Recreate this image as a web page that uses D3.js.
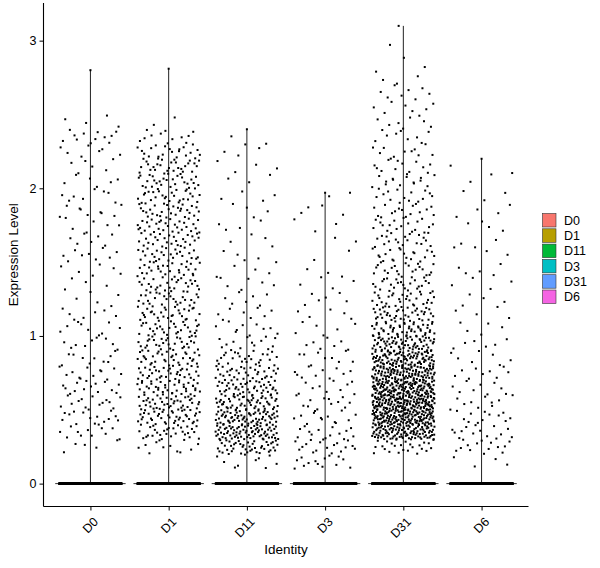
<!DOCTYPE html>
<html>
<head>
<meta charset="utf-8">
<script src="https://cdn.jsdelivr.net/npm/d3@7"></script>
<style>
  body { margin: 0; background: #fff; }
  svg { font-family: "Liberation Sans", Arial, sans-serif; }
</style>
</head>
<body>
<svg id="chart" width="600" height="568"></svg>
<script>
// ---- data ----
const categories = ["D0", "D1", "D11", "D3", "D31", "D6"];
const colors = ["#F8766D", "#B79F00", "#00BA38", "#00BFC4", "#619CFF", "#F564E3"];
const maxValues = [2.80, 2.81, 2.40, 1.97, 3.10, 2.20];
// number of cells with expression exactly 0 (forms the thick band at 0)
const zeroCounts = [500, 500, 500, 500, 500, 500];
// bin start values (width 0.1) and per-category counts of non-zero cells (below the maximum cell)
const binStarts = [0.1,0.2,0.3,0.4,0.5,0.6,0.7,0.8,0.9,1.0,1.1,1.2,1.3,1.4,1.5,1.6,1.7,1.8,1.9,2.0,2.1,2.2,2.3,2.4,2.5,2.6,2.7,2.8,2.9,3.0];
const countsD0  = [0,5,12,14,14,14,12,10,9,9,7,5,4,6,9,7,6,9,8,6,6,7,12,4,0,0,0,0,0,0];
const countsD1  = [0,12,30,40,42,40,36,34,32,30,30,28,28,28,28,28,30,30,28,28,28,22,12,2,0,0,0,0,0,0];
const countsD11 = [10,45,75,70,55,45,35,25,14,10,8,7,6,5,4,4,4,4,4,3,4,4,2,0,0,0,0,0,0,0];
const countsD3  = [14,18,14,13,12,10,10,9,7,6,5,6,4,3,2,2,3,4,2,0,0,0,0,0,0,0,0,0,0,0];
const countsD31 = [0,25,110,140,150,135,115,95,70,50,40,30,25,22,20,20,18,16,15,15,12,11,9,8,7,8,4,2,1,0];
const countsD6  = [4,14,14,12,10,9,9,7,6,5,4,4,4,5,3,3,4,4,3,2,2,0,0,0,0,0,0,0,0,0];
const binCounts = [countsD0, countsD1, countsD11, countsD3, countsD31, countsD6];
// horizontal jitter of the single maximum cell (fraction of the jitter width)
const maxJitter = [0.0, 0.0, 0.0, 0.0, -0.15, 0.0];
const yTicks = [0, 1, 2, 3];

// ---- layout ----
const svg = d3.select("#chart");
const pLeft = 43.5, pRight = 528.5, pTop = 3, pBottom = 506.5;

const x = d3.scalePoint().domain(categories).range([pLeft, pRight]).padding(0.6);
const step = x.step();
const yMax = d3.max(maxValues);
const pad = yMax * 0.05;
const y = d3.scaleLinear().domain([-pad, yMax + pad]).range([pBottom, pTop]);

// deterministic low-discrepancy jitter (stands in for ggplot's random jitter)
function halton(i, b) { let f = 1, r = 0; while (i > 0) { f /= b; r += f * (i % b); i = Math.floor(i / b); } return r; }

// violins (degenerate: flat at 0, thin up to max)
const vg = svg.append("g");
categories.forEach((c, ci) => {
  const cx = x(c);
  vg.append("line").attr("x1", cx - 0.45 * step).attr("x2", cx + 0.45 * step)
    .attr("y1", y(0)).attr("y2", y(0)).attr("stroke", "#333").attr("stroke-width", 1);
  vg.append("line").attr("x1", cx).attr("x2", cx)
    .attr("y1", y(0)).attr("y2", y(maxValues[ci])).attr("stroke", "#222").attr("stroke-width", 1);
});

// points
const pts = [];
categories.forEach((c, ci) => {
  let idx = 1 + ci * 3001;
  for (let k = 0; k < zeroCounts[ci]; k++, idx++) {
    pts.push({ c, v: 0, j: halton(idx, 3) * 2 - 1 });
  }
  binCounts[ci].forEach((n, bi) => {
    for (let k = 0; k < n; k++, idx++) {
      let v = binStarts[bi] + 0.1 * halton(idx, 2);
      if (v > maxValues[ci]) v = maxValues[ci];
      pts.push({ c, v, j: halton(idx, 3) * 2 - 1 });
    }
  });
  pts.push({ c, v: maxValues[ci], j: maxJitter[ci] });
});
svg.append("g").selectAll("rect").data(pts).join("rect")
  .attr("x", d => x(d.c) + d.j * 0.4 * step - 1)
  .attr("y", d => y(d.v) - 1)
  .attr("width", 2).attr("height", 2)
  .attr("fill", "#000");

// axes
const yAxis = svg.append("g").attr("transform", `translate(${pLeft},0)`)
  .call(d3.axisLeft(y).tickValues(yTicks).tickSize(4).tickPadding(3).tickFormat(d3.format("d")));
yAxis.select(".domain").attr("d", `M0,${pTop}V${pBottom}`).attr("stroke", "#000").attr("stroke-width", 1.1);
yAxis.selectAll("text").attr("font-size", 12.5).attr("fill", "#000");

const xAxis = svg.append("g").attr("transform", `translate(0,${pBottom})`)
  .call(d3.axisBottom(x).tickSize(4));
xAxis.select(".domain").attr("d", `M${pLeft},0H${pRight}`).attr("stroke", "#000").attr("stroke-width", 1.1);
xAxis.selectAll("text")
  .attr("font-size", 12.5).attr("fill", "#000")
  .attr("text-anchor", "end")
  .attr("dy", "0.35em")
  .attr("y", 0)
  .attr("transform", "translate(5,13) rotate(-45)");

// axis titles
svg.append("text").attr("x", (pLeft + pRight) / 2).attr("y", 554)
  .attr("text-anchor", "middle").attr("font-size", 13.5).text("Identity");
svg.append("text").attr("transform", `translate(18,${(pTop + pBottom) / 2}) rotate(-90)`)
  .attr("text-anchor", "middle").attr("font-size", 13.5).text("Expression Level");

// legend
const lg = svg.append("g").attr("transform", "translate(542,213)");
categories.forEach((c, i) => {
  const g = lg.append("g").attr("transform", `translate(0,${i * 15.3})`);
  g.append("rect").attr("x", 0.5).attr("y", 0.5).attr("width", 13.5).attr("height", 13.5)
    .attr("fill", colors[i]).attr("stroke", "#333").attr("stroke-width", 0.6);
  g.append("text").attr("x", 22).attr("y", 7.5).attr("dy", "0.35em")
    .attr("font-size", 12.5).text(c);
});
</script>
</body>
</html>
